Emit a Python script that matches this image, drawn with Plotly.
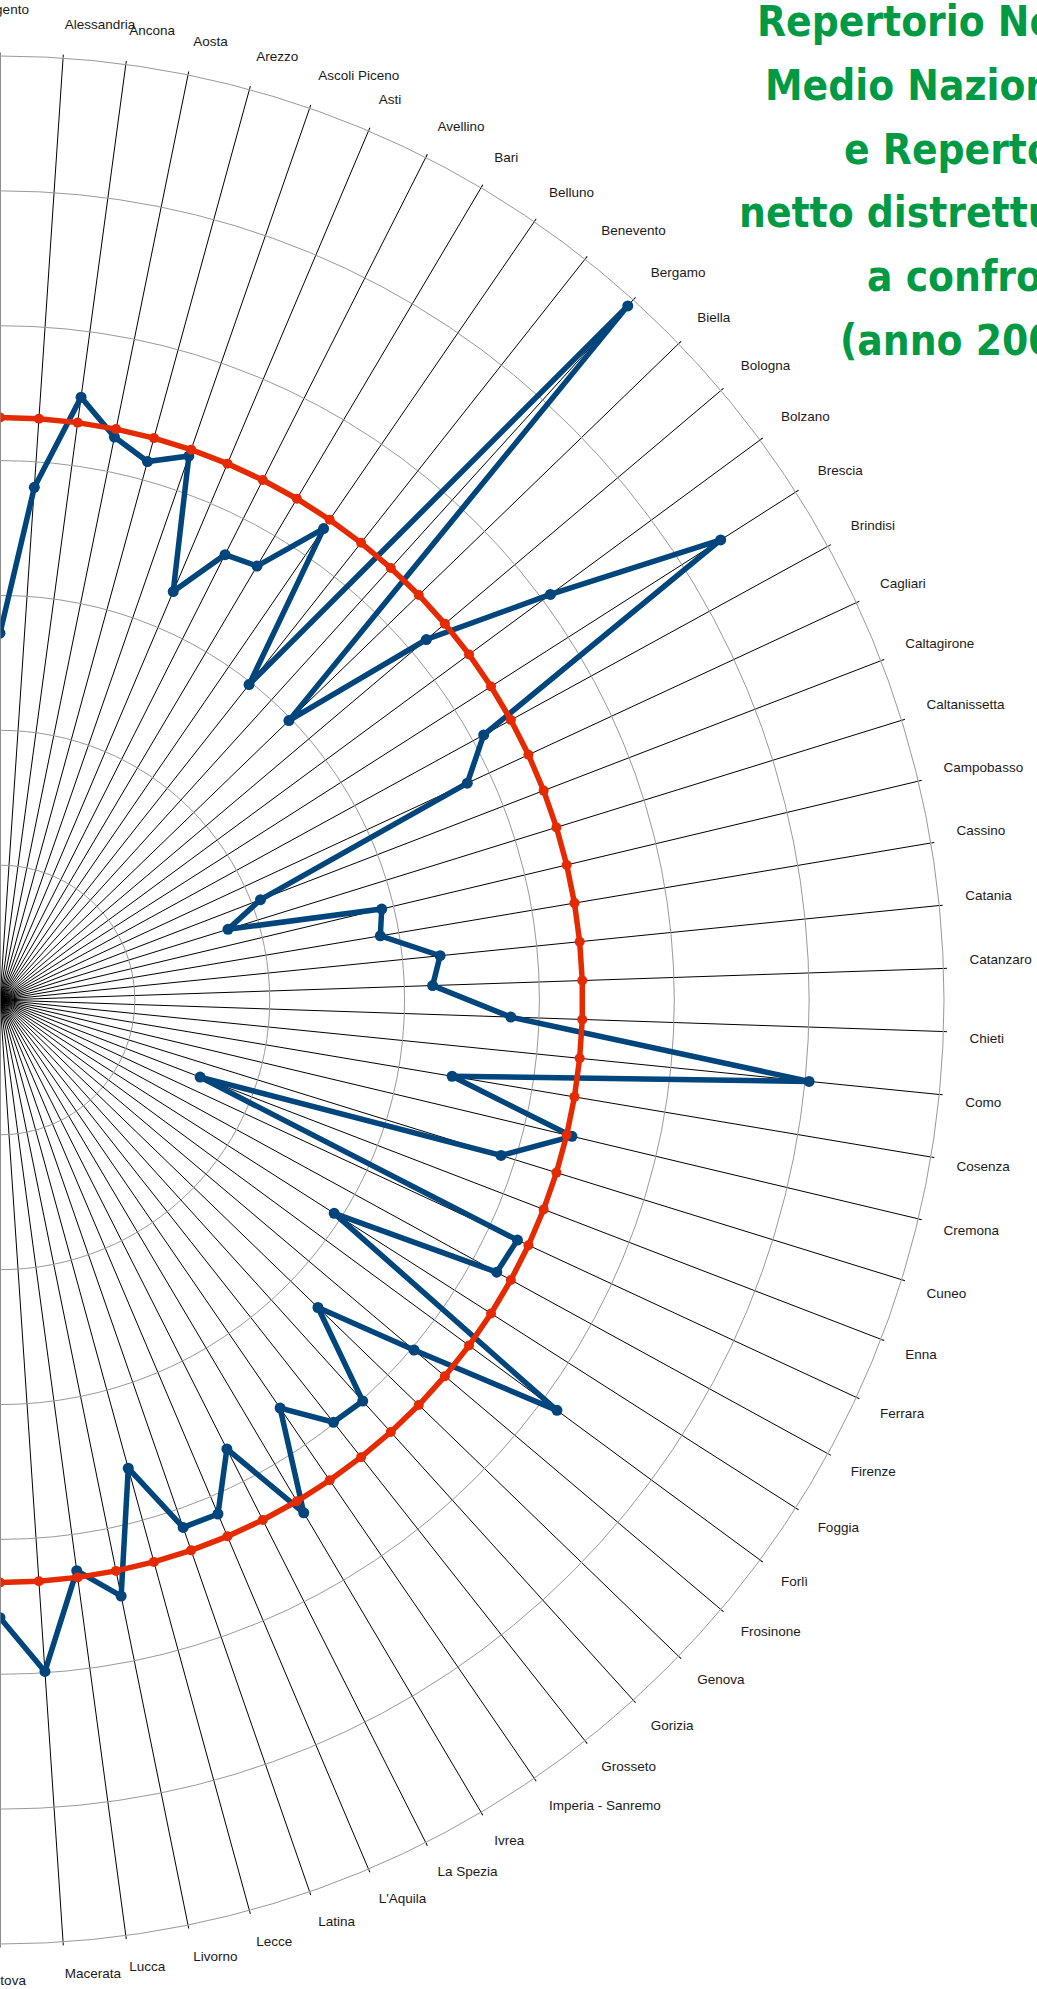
import plotly.graph_objects as go

# Distretti notarili (ordine alfabetico, metà destra del grafico)
districts = [
    "Agrigento", "Alessandria", "Ancona", "Aosta", "Arezzo", "Ascoli Piceno",
    "Asti", "Avellino", "Bari", "Belluno", "Benevento", "Bergamo", "Biella",
    "Bologna", "Bolzano", "Brescia", "Brindisi", "Cagliari", "Caltagirone",
    "Caltanissetta", "Campobasso", "Cassino", "Catania", "Catanzaro", "Chieti",
    "Como", "Cosenza", "Cremona", "Cuneo", "Enna", "Ferrara", "Firenze",
    "Foggia", "Forlì", "Frosinone", "Genova", "Gorizia", "Grosseto",
    "Imperia - Sanremo", "Ivrea", "La Spezia", "L'Aquila", "Latina", "Lecce",
    "Livorno", "Lucca", "Macerata", "Mantova",
]

# Repertorio netto distrettuale
repertorio_distrettuale = [
    27.2, 38.1, 45.1, 42.6, 41.4, 42.7, 32.9, 37.0, 37.4, 42.4,
    29.8, 69.4, 29.8, 41.4, 50.7, 63.4, 40.9, 38.2, 20.7, 17.7,
    29.1, 28.6, 32.8, 32.1, 37.9, 60.3, 34.0, 43.6, 38.9, 15.9,
    42.3, 42.0, 29.4, 51.3, 40.2, 32.8, 40.1, 39.9, 36.7, 44.2,
    37.3, 41.4, 41.4, 36.0, 45.1, 42.7, 49.9, 45.8,
]

# Repertorio netto medio nazionale
repertorio_medio_nazionale = 43.2

TOTAL_DISTRICTS = 94
R_MAX = 70

title_lines = [
    "Repertorio Netto",
    "Medio Nazionale",
    "e Repertorio",
    "netto distrettuale",
    "a confronto",
    "(anno 2006)",
]

# ---------------------------------------------------------------- geometry
W, H = 1037, 1989
CX, CY = 0, 1000          # centre of the web, in pixels
R_PX = 944                # outer ring radius, in pixels
LABEL_R_MAX = 73          # radial range of the (invisible) label layer
R2_PX = R_PX * LABEL_R_MAX / R_MAX


def domain_for(radius_px):
    return dict(
        x=[CX / W, (CX + radius_px) / W],
        y=[1 - (CY + radius_px) / H, 1 - (CY - radius_px) / H],
    )


def px_to_paper(px, py):
    return px / W, 1 - py / H


n = len(districts)
BLUE = "#00457c"
RED = "#e62a00"

fig = go.Figure()

fig.add_trace(go.Scatterpolar(
    r=repertorio_distrettuale, theta=districts,
    mode="lines+markers",
    line=dict(color=BLUE, width=5.5),
    marker=dict(size=11, color=BLUE),
    name="Repertorio netto distrettuale",
    subplot="polar",
))

fig.add_trace(go.Scatterpolar(
    r=[repertorio_medio_nazionale] * n, theta=districts,
    mode="lines+markers",
    line=dict(color=RED, width=5.5),
    marker=dict(size=10, color=RED),
    name="Repertorio netto medio nazionale",
    subplot="polar",
))

# district names just outside the outer ring (separate, invisible polar layer)
label_r = []
label_pos = []
for i in range(n):
    ang = i * 360 / TOTAL_DISTRICTS
    if ang == 0:
        label_r.append(72.9)
        label_pos.append("top center")
    elif ang == 180:
        label_r.append(72.3)
        label_pos.append("bottom center")
    elif ang < 90:
        label_r.append(71.93)
        label_pos.append("top right")
    else:
        label_r.append(71.93)
        label_pos.append("bottom right")

fig.add_trace(go.Scatterpolar(
    r=label_r, theta=districts,
    mode="text", text=districts, textposition=label_pos,
    textfont=dict(size=13.5, color="#1a1a1a",
                  family="Liberation Sans, Arial, sans-serif"),
    cliponaxis=False, hoverinfo="skip", showlegend=False,
    subplot="polar2",
))

angular_common = dict(
    type="category",
    categoryorder="array", categoryarray=districts,
    period=TOTAL_DISTRICTS,
    rotation=90, direction="clockwise",
)

fig.update_layout(
    width=W, height=H,
    margin=dict(l=0, r=0, t=0, b=0),
    paper_bgcolor="white",
    showlegend=False,
    polar=dict(
        domain=domain_for(R_PX),
        sector=[-90, 90],
        bgcolor="white",
        angularaxis=dict(
            **angular_common,
            showgrid=True, gridcolor="black", gridwidth=1.1,
            showline=True, linecolor="#999999", linewidth=1,
            ticks="outside", ticklen=3, tickcolor="black", tickwidth=1,
            showticklabels=False,
        ),
        radialaxis=dict(
            range=[0, R_MAX], dtick=10,
            showgrid=True, gridcolor="#999999", gridwidth=1,
            showline=False, showticklabels=False, ticks="",
        ),
    ),
    polar2=dict(
        domain=domain_for(R2_PX),
        sector=[-90, 90],
        bgcolor="rgba(0,0,0,0)",
        angularaxis=dict(
            **angular_common,
            showgrid=False, showline=False, ticks="",
            showticklabels=False,
        ),
        radialaxis=dict(
            range=[0, LABEL_R_MAX], visible=False,
            showgrid=False, showline=False, showticklabels=False, ticks="",
        ),
    ),
)

# title block, green condensed bold
title_left = [755, 763, 842, 737, 865, 838]
first_center = 22
line_step = 63.6
for k, (txt, left) in enumerate(zip(title_lines, title_left)):
    xp, yp = px_to_paper(left, first_center + k * line_step)
    fig.add_annotation(
        text=txt, xref="paper", yref="paper", x=xp, y=yp,
        xanchor="left", yanchor="middle", showarrow=False,
        font=dict(family="DejaVu Sans Condensed, DejaVu Sans", size=42,
                  color="#009a44", weight="bold"),
    )

fig.write_html("out.html")
